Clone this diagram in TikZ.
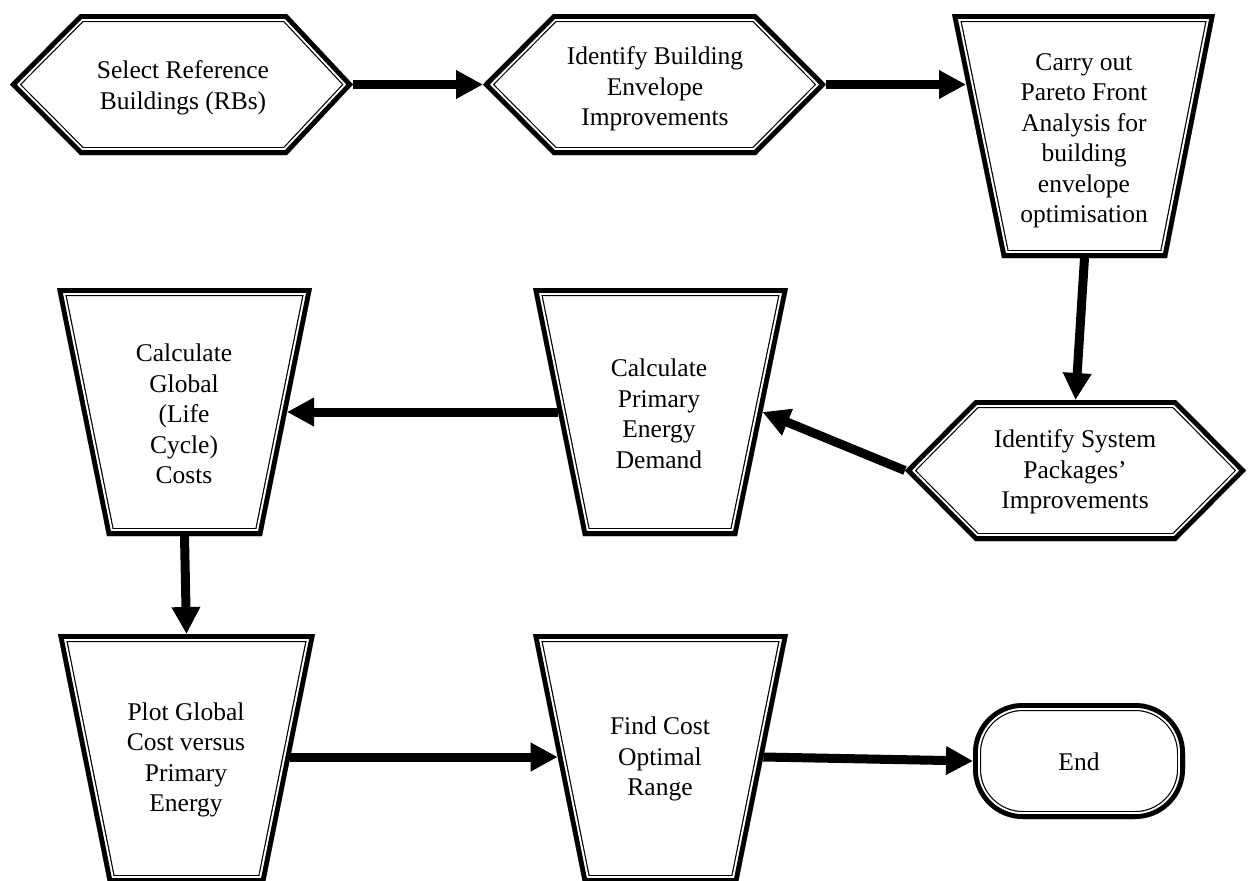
\documentclass[tikz,border=0pt]{standalone}
\usepackage{fontspec}
\setmainfont{Liberation Serif}
\usetikzlibrary{arrows.meta}
\newcommand\dblshape[1]{%
  \begin{scope}
    \clip #1;
    \draw[line width=8pt] #1;
    \draw[white, line width=6.8pt] #1;
    \draw[line width=4.8pt] #1;
  \end{scope}}
\tikzset{
  flowarrow/.style={line width=4.5pt, -{Triangle[length=13.5pt,width=13.5pt]}},
  boxtext/.style={font=\fontsize{12.75pt}{15.25pt}\selectfont, align=center, inner sep=0pt},
}
\begin{document}
\begin{tikzpicture}[x=0.5pt,y=-0.5pt]
\useasboundingbox (0,0) rectangle (1249,880);
% shapes
\dblshape{(10,84.5) -- (80,14) -- (287,14) -- (353,84.5) -- (287,155) -- (80,155) -- cycle}
\dblshape{(483,84.5) -- (553,14) -- (756,14) -- (826,84.5) -- (756,155) -- (553,155) -- cycle}
\dblshape{(952,14) -- (1215,14) -- (1167,258) -- (1002,258) -- cycle}
\dblshape{(905,470.5) -- (975,400) -- (1176,400) -- (1246,470.5) -- (1176,541) -- (975,541) -- cycle}
\dblshape{(533,288) -- (788,288) -- (737,536) -- (583,536) -- cycle}
\dblshape{(57,288) -- (312,288) -- (262,536) -- (107,536) -- cycle}
\dblshape{(58,634) -- (315,634) -- (265,883) -- (108,883) -- cycle}
\dblshape{(533,634) -- (788,634) -- (738,883) -- (583,883) -- cycle}
\dblshape{[rounded corners=25pt] (973,703) rectangle (1185,819)}
% texts
\node[boxtext] (selref) at (183,88) {Select Reference\\Buildings (RBs)};
\node[boxtext] (envimp) at (655,89) {Identify Building\\Envelope\\Improvements};
\node[boxtext] (pareto) at (1084,141) {Carry out\\Pareto Front\\Analysis for\\building\\envelope\\optimisation};
\node[boxtext] (sysimp) at (1075,472) {Identify System\\Packages’\\Improvements};
\node[boxtext] (primen) at (659,414) {Calculate\\Primary\\Energy\\Demand};
\node[boxtext] (globcost) at (184,414) {Calculate\\Global\\(Life\\Cycle)\\Costs};
\node[boxtext] (plotgc) at (186,760) {Plot Global\\Cost versus\\Primary\\Energy};
\node[boxtext] (findco) at (660,759) {Find Cost\\Optimal\\Range};
\node[boxtext] (endnode) at (1079,762) {End};
% connector anchors
\coordinate (selref-e) at (353,84.5);
\coordinate (envimp-w) at (483,84.5);
\coordinate (envimp-e) at (826,84.5);
\coordinate (pareto-w) at (966,84.5);
\coordinate (pareto-s) at (1084.5,258);
\coordinate (sysimp-n) at (1075.5,400);
\coordinate (sysimp-w) at (905,470.5);
\coordinate (primen-e) at (762.5,412);
\coordinate (primen-w) at (558,412);
\coordinate (globcost-e) at (287,412);
\coordinate (globcost-s) at (184.5,536);
\coordinate (plotgc-n) at (186.5,634);
\coordinate (plotgc-e) at (290.3,757);
\coordinate (findco-w) at (557.7,757);
\coordinate (findco-e) at (763.3,757);
\coordinate (endnode-w) at (973,761);
% connectors
\draw[flowarrow] (selref-e) -- (envimp-w);
\draw[flowarrow] (envimp-e) -- (pareto-w);
\draw[flowarrow] (pareto-s) -- (sysimp-n);
\draw[flowarrow] (sysimp-w) -- (primen-e);
\draw[flowarrow] (primen-w) -- (globcost-e);
\draw[flowarrow] (globcost-s) -- (plotgc-n);
\draw[flowarrow] (plotgc-e) -- (findco-w);
\draw[flowarrow] (findco-e) -- (endnode-w);
\end{tikzpicture}
\end{document}
